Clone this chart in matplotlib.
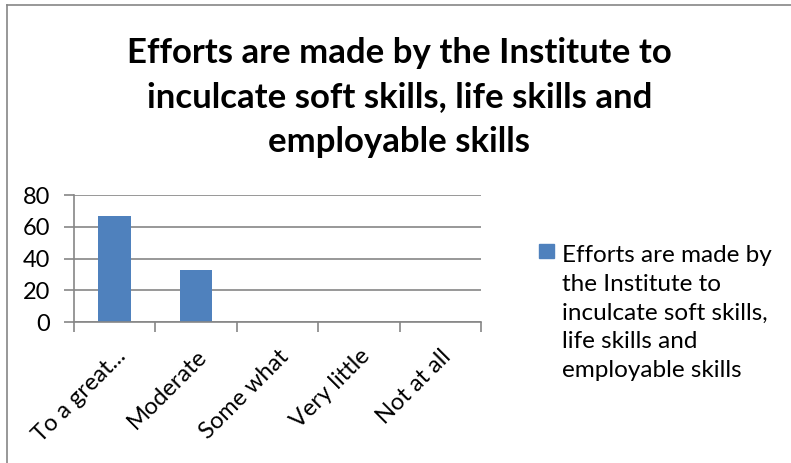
import matplotlib.pyplot as plt
import matplotlib.transforms as mtransforms
from matplotlib.lines import Line2D
from matplotlib.patches import Rectangle

categories = ["To a great...", "Moderate", "Some what", "Very little", "Not at all"]
values = [67, 33, 0, 0, 0]
series_name = ("Efforts are made by\nthe Institute to\ninculcate soft skills,\n"
               "life skills and\nemployable skills")
title = ("Efforts are made by the Institute to\ninculcate soft skills, life skills and\n"
         "employable skills")

plt.rcParams["font.family"] = ["Lato", "DejaVu Sans"]
bar_color = "#4f81bd"
grid_color = "#868686"

fig = plt.figure(figsize=(7.91, 4.63), dpi=100)
ax = fig.add_axes([0.0936, 0.3045, 0.5145, 0.2743])

x = range(len(categories))
ax.bar(x, values, width=0.4, color=bar_color)
ax.set_xlim(-0.5, len(categories) - 0.5)
ax.set_ylim(0, 80)
ax.set_yticks([0, 20, 40, 60, 80])
ax.yaxis.grid(True, color=grid_color, linewidth=1.2)
ax.set_axisbelow(True)

ax.set_xticks([i - 0.5 for i in range(len(categories) + 1)], minor=False)
ax.set_xticklabels([])
ax.set_xticks(list(x), minor=True)
ax.set_xticklabels(categories, minor=True, rotation=45, ha="right",
                   rotation_mode="anchor", fontsize=17)
offset = mtransforms.ScaledTranslation(10 / 100, 0, fig.dpi_scale_trans)
for lbl in ax.get_xticklabels(minor=True):
    lbl.set_transform(lbl.get_transform() + offset)
ax.tick_params(axis="x", which="minor", length=0, pad=17)
ax.tick_params(axis="x", which="major", length=7, color=grid_color, width=1.2)
ax.tick_params(axis="y", length=7, color=grid_color, width=1.2, labelsize=17, pad=10)

for s in ["top", "right"]:
    ax.spines[s].set_visible(False)
for s in ["left", "bottom"]:
    ax.spines[s].set_color(grid_color)
    ax.spines[s].set_linewidth(1.2)

fig.text(0.505, 0.79, title, ha="center", va="center", fontsize=25,
         fontweight="bold", linespacing=1.48)

# legend entry
fig.patches.append(Rectangle((0.6814, 0.4428), 0.019, 0.030, transform=fig.transFigure,
                             color=bar_color))
# va="baseline" lines up the last line's baseline
fig.text(0.7105, 0.1858, series_name, ha="left", va="baseline", fontsize=17.5,
         linespacing=1.45)

# chart border (top and left visible)
fig.lines.append(Line2D([0.009, 1.0], [0.989, 0.989], transform=fig.transFigure,
                        color=grid_color, linewidth=1.2))
fig.lines.append(Line2D([0.009, 0.009], [0.0, 0.989], transform=fig.transFigure,
                        color=grid_color, linewidth=1.2))

fig.savefig("out.png", dpi=100)
